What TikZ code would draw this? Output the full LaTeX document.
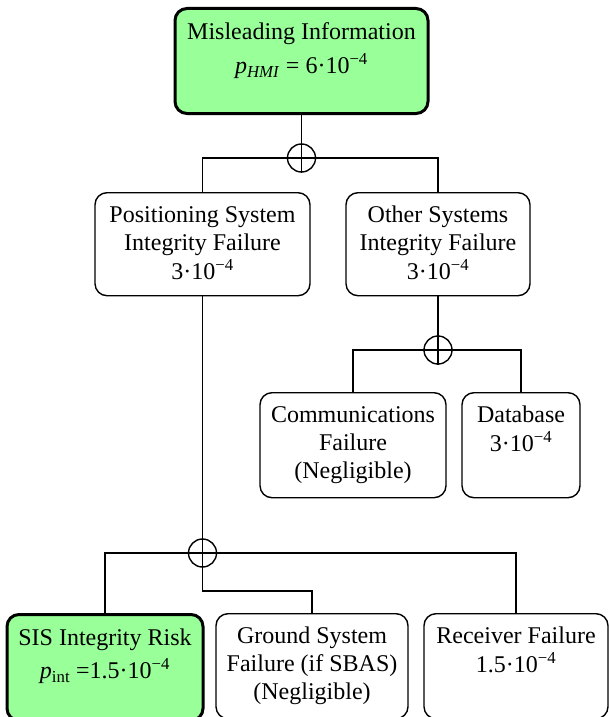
\documentclass[tikz,border=0pt]{standalone}
\usepackage{fontspec}
\setmainfont{Liberation Serif}
\definecolor{evgreen}{RGB}{153,255,153}
\newcommand{\ftlines}[1]{\begin{tabular}[t]{@{}c@{}}#1\end{tabular}}
\newcommand{\tenpow}[1]{#1·10\textsuperscript{−4}}
\tikzset{
  event/.style={draw, rounded corners=12pt, line width=1.4pt, inner sep=0pt, anchor=north, text height=30pt},
  keyevent/.style={event, line width=3pt, fill=evgreen},
  orgate/.style={draw, circle, line width=1.4pt, minimum size=28pt, inner sep=0pt}
}
\begin{document}
\begin{tikzpicture}[x=1pt, y=-1pt, line width=1.4pt, every node/.style={font=\fontsize{24}{28}\selectfont}]
\useasboundingbox (0,0) rectangle (609,717);

\node[keyevent, minimum width=253pt, text height=31pt, text depth=74pt] (mis) at (301.5,7) {\ftlines{Misleading Information\\[6pt] \textit{p}\textsubscript{\textit{HMI}} = \tenpow{6}}};

\node[event, minimum width=215pt, text depth=73pt] (pos) at (202.5,192) {\ftlines{Positioning System\\Integrity Failure\\\tenpow{3}}};
\node[event, minimum width=184pt, text depth=73pt] (oth) at (438,192) {\ftlines{Other Systems\\Integrity Failure\\\tenpow{3}}};

\node[event, minimum width=186pt, text depth=75pt] (com) at (353,392) {\ftlines{Communications\\Failure\\(Negligible)}};
\node[event, minimum width=118pt, text depth=75pt] (db) at (521,392) {\ftlines{Database\\\tenpow{3}}};

\node[keyevent, minimum width=196pt, text height=31pt, text depth=75pt] (sis) at (105,613) {\ftlines{SIS Integrity Risk\\[5pt] \textit{p}\textsubscript{int} =\tenpow{1.5}}};
\node[event, minimum width=192pt, text depth=75pt] (gnd) at (312,613) {\ftlines{Ground System\\Failure (if SBAS)\\(Negligible)}};
\node[event, minimum width=184pt, text depth=75pt] (rcv) at (516,613) {\ftlines{Receiver Failure\\\tenpow{1.5}}};

\node[orgate] (or1) at (301.5,158) {};
\node[orgate] (or2) at (438,350) {};
\node[orgate] (or3) at (202.5,553) {};

\draw (mis.south) -- (or1.south);
\draw (pos.north) |- (or1.center) -| (oth.north);
\draw (oth.south) -- (or2.south);
\draw (com.north) |- (or2.center) -| (db.north);
\draw (pos.south) -- ([yshift=-38pt]or3.center) -| (gnd.north);
\draw (sis.north) |- (or3.center) -| (rcv.north);

\end{tikzpicture}
\end{document}
